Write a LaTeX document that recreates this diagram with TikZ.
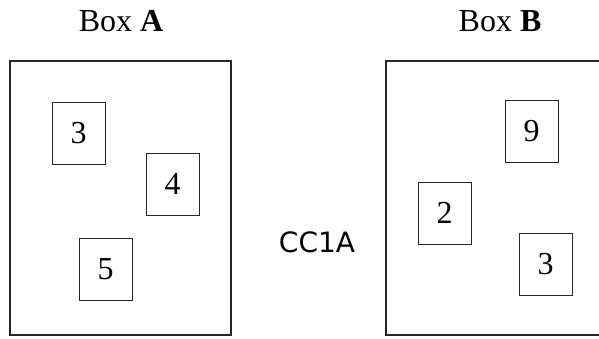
\documentclass[tikz,border=0pt]{standalone}
\usepackage{fontspec}
\setmainfont{Liberation Serif}
\newfontfamily\codefont{DejaVu Sans}
\tikzset{
  card/.style={draw=black!85, line width=1pt, minimum width=53pt, minimum height=62pt,
    inner sep=0pt, font=\fontsize{32}{36}\selectfont},
  boxtitle/.style={anchor=base, font=\fontsize{32}{36}\selectfont},
}
\begin{document}
\begin{tikzpicture}[x=1pt,y=-1pt]
\useasboundingbox (0,0) rectangle (599,338);

% Box A
\draw[line width=1.8pt, black!85] (10,61) rectangle (231,335);
\node[boxtitle] (titleA) at (121,31) {Box \textbf{A}};
\node[card] (a3) at (78.5,133) {3};
\node[card] (a4) at (172.5,184) {4};
\node[card] (a5) at (105.5,269) {5};

% Box B
\draw[line width=1.8pt, black!85] (386,61) rectangle (607,335);
\node[boxtitle] (titleB) at (500,31) {Box \textbf{B}};
\node[card] (b9) at (531.5,131.5) {9};
\node[card] (b2) at (444.5,213) {2};
\node[card] (b3) at (545.5,264) {3};

\node[font=\codefont\fontsize{28}{32}\selectfont] (code) at (317,242) {CC1A};
\end{tikzpicture}
\end{document}
